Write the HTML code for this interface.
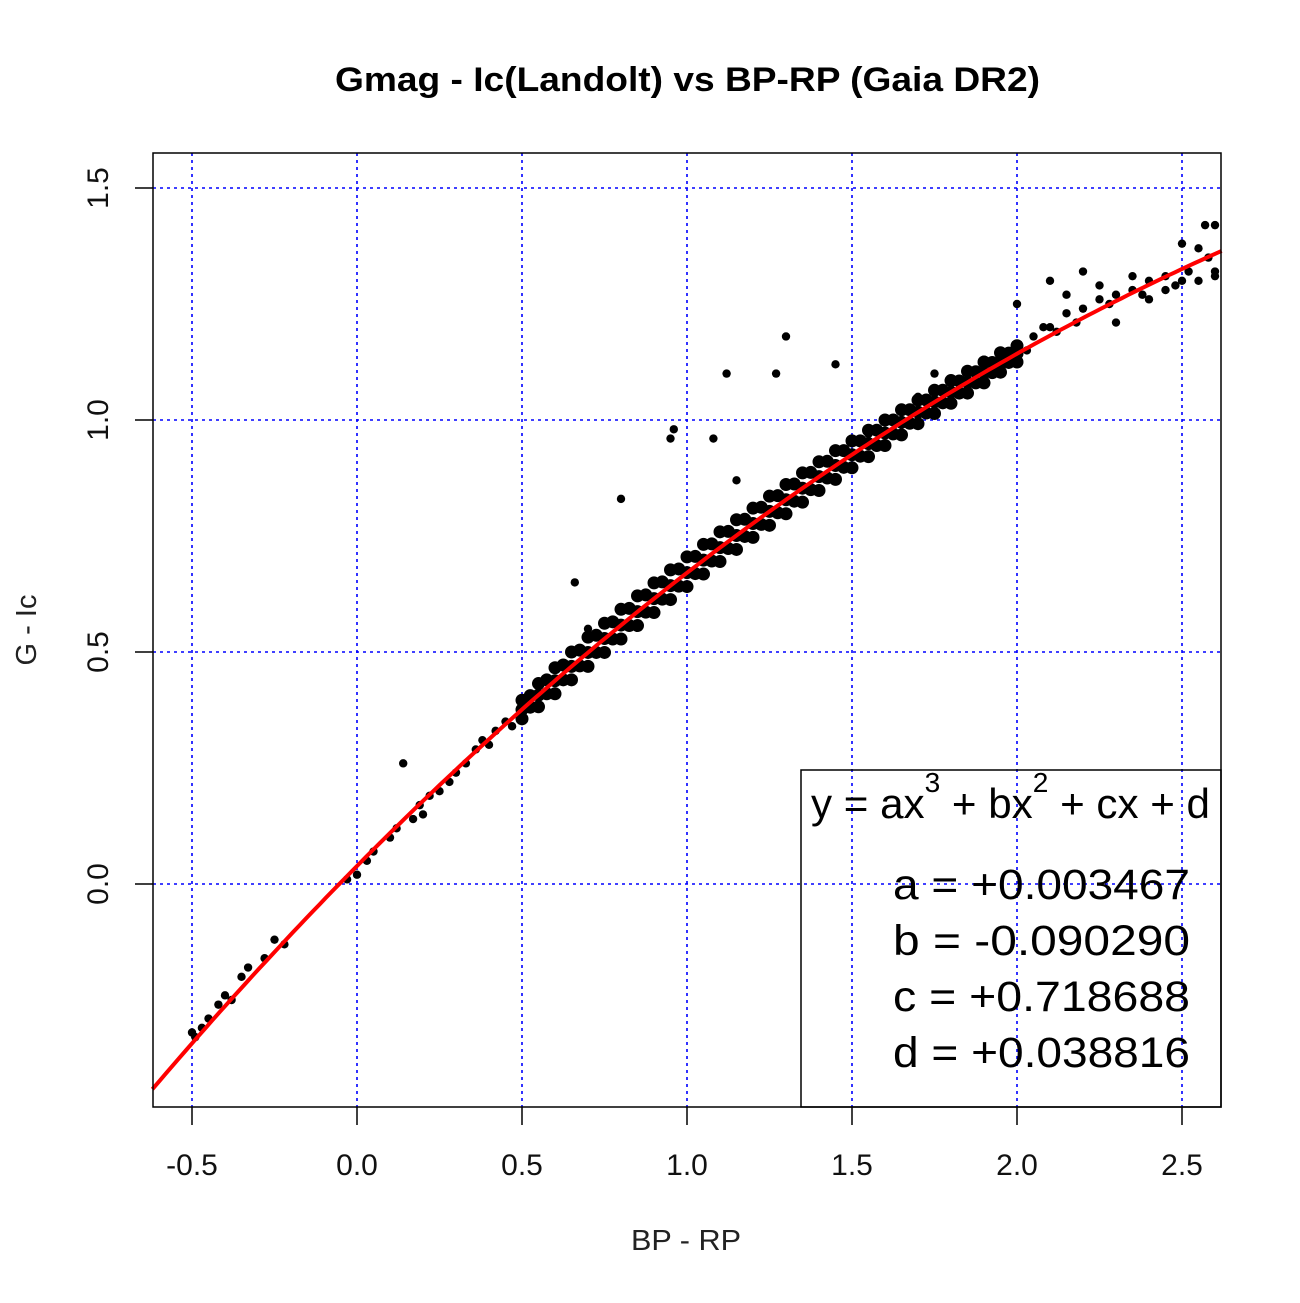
<!DOCTYPE html>
<html><head><meta charset="utf-8"><style>
html,body{margin:0;padding:0;background:#fff;}
svg text{font-family:"Liberation Sans",Arial,sans-serif;}
</style></head><body>
<svg id="chart" width="1300" height="1298" xmlns="http://www.w3.org/2000/svg">
<rect width="1300" height="1298" fill="#fff"/>
<text x="335" y="91" textLength="705" lengthAdjust="spacingAndGlyphs" font-size="34" font-weight="bold">Gmag - Ic(Landolt) vs BP-RP (Gaia DR2)</text>
<g id="grid"></g>
<g id="points"></g>
<path id="fit" fill="none" stroke="#ff0000" stroke-width="4"/>
<rect x="153" y="153" width="1068" height="954" fill="none" stroke="#000" stroke-width="1.5"/>
<g id="axes"></g>
<text x="631" y="1250" textLength="110" lengthAdjust="spacingAndGlyphs" font-size="29" fill="#222">BP - RP</text>
<text transform="translate(36,630) rotate(-90)" text-anchor="middle" font-size="29" fill="#222">G - Ic</text>
<g>
<rect x="801" y="770" width="420" height="337" fill="none" stroke="#000" stroke-width="1.5"/>
<text x="811" y="818" textLength="399" lengthAdjust="spacingAndGlyphs" font-size="42">y = ax<tspan dy="-26" font-size="28">3</tspan><tspan dy="26"> + bx</tspan><tspan dy="-26" font-size="28">2</tspan><tspan dy="26"> + cx + d</tspan></text>
<text id="coefText" font-size="43"></text>
</g>
</svg>
<script>
const coefNames = ["a","b","c","d"];
const coefLabels = ["+0.003467","-0.090290","+0.718688","+0.038816"];
const coefValues = [0.003467,-0.090290,0.718688,0.038816];
const xTicks = [-0.5,0,0.5,1,1.5,2,2.5];
const xTickLabels = ["-0.5","0.0","0.5","1.0","1.5","2.0","2.5"];
const yTicks = [0,0.5,1,1.5];
const yTickLabels = ["0.0","0.5","1.0","1.5"];
const bandPts = [
[0.5,0.356],[0.5,0.376],[0.5,0.396],[0.525,0.381],[0.525,0.406],
[0.55,0.382],[0.55,0.407],[0.55,0.432],[0.575,0.410],[0.575,0.440],
[0.6,0.410],[0.6,0.438],[0.6,0.466],[0.625,0.440],[0.625,0.472],
[0.65,0.440],[0.65,0.469],[0.65,0.500],[0.675,0.470],[0.675,0.504],
[0.7,0.469],[0.7,0.499],[0.7,0.532],[0.725,0.499],[0.725,0.536],
[0.75,0.499],[0.75,0.529],[0.75,0.562],[0.775,0.528],[0.775,0.565],
[0.8,0.528],[0.8,0.558],[0.8,0.592],[0.825,0.557],[0.825,0.594],
[0.85,0.557],[0.85,0.587],[0.85,0.621],[0.875,0.586],[0.875,0.623],
[0.9,0.585],[0.9,0.615],[0.9,0.649],[0.925,0.614],[0.925,0.651],
[0.95,0.613],[0.95,0.643],[0.95,0.677],[0.975,0.642],[0.975,0.679],
[1.0,0.641],[1.0,0.671],[1.0,0.705],[1.025,0.669],[1.025,0.706],
[1.05,0.668],[1.05,0.698],[1.05,0.732],[1.075,0.696],[1.075,0.733],
[1.1,0.695],[1.1,0.725],[1.1,0.759],[1.125,0.723],[1.125,0.760],
[1.15,0.721],[1.15,0.751],[1.15,0.785],[1.175,0.749],[1.175,0.786],
[1.2,0.747],[1.2,0.777],[1.2,0.810],[1.225,0.775],[1.225,0.812],
[1.25,0.773],[1.25,0.803],[1.25,0.836],[1.275,0.800],[1.275,0.837],
[1.3,0.798],[1.3,0.828],[1.3,0.861],[1.325,0.825],[1.325,0.862],
[1.35,0.823],[1.35,0.853],[1.35,0.886],[1.375,0.850],[1.375,0.887],
[1.4,0.848],[1.4,0.878],[1.4,0.910],[1.425,0.875],[1.425,0.911],
[1.45,0.872],[1.45,0.902],[1.45,0.934],[1.475,0.898],[1.475,0.934],
[1.5,0.897],[1.5,0.925],[1.5,0.955],[1.525,0.922],[1.525,0.955],
[1.55,0.921],[1.55,0.949],[1.55,0.978],[1.575,0.945],[1.575,0.978],
[1.6,0.945],[1.6,0.972],[1.6,1.000],[1.625,0.970],[1.625,1.000],
[1.65,0.968],[1.65,0.995],[1.65,1.022],[1.675,0.993],[1.675,1.022],
[1.7,0.992],[1.7,1.017],[1.7,1.043],[1.725,1.015],[1.725,1.043],
[1.75,1.014],[1.75,1.039],[1.75,1.064],[1.775,1.037],[1.775,1.064],
[1.8,1.036],[1.8,1.060],[1.8,1.085],[1.825,1.058],[1.825,1.084],
[1.85,1.058],[1.85,1.081],[1.85,1.105],[1.875,1.080],[1.875,1.104],
[1.9,1.080],[1.9,1.102],[1.9,1.125],[1.925,1.102],[1.925,1.124],
[1.95,1.103],[1.95,1.123],[1.95,1.145],[1.975,1.124],[1.975,1.144],
[2.0,1.125],[2.0,1.143],[2.0,1.160]
];
const sparsePts = [
[-0.5,-0.32],[-0.49,-0.33],[-0.47,-0.31],[-0.45,-0.29],[-0.42,-0.26],[-0.4,-0.24],[-0.38,-0.25],[-0.35,-0.2],[-0.33,-0.18],[-0.28,-0.16],[-0.25,-0.12],[-0.22,-0.13],
[-0.03,0.01],[0.0,0.02],[0.03,0.05],[0.05,0.07],[0.1,0.1],[0.12,0.12],[0.14,0.26],[0.17,0.14],[0.19,0.17],[0.2,0.15],[0.22,0.19],[0.25,0.2],[0.28,0.22],[0.3,0.24],[0.33,0.26],[0.36,0.29],[0.38,0.31],[0.4,0.3],[0.42,0.33],[0.45,0.35],[0.47,0.34],
[0.66,0.65],[0.8,0.83],[0.96,0.98],[0.95,0.96],[1.08,0.96],[1.12,1.1],[1.15,0.87],[1.27,1.1],[1.3,1.18],[1.45,1.12],[1.65,1.0],[1.75,1.1],[2.0,1.25],[2.1,1.3],[2.15,1.27],[2.2,1.32],[2.25,1.29],[2.35,1.31],[2.45,1.28],[2.5,1.38],[2.55,1.3],[2.6,1.42],[2.57,1.42],[2.6,1.32],[2.05,1.18],[2.15,1.23],[2.25,1.26],[2.35,1.28],[2.45,1.31],[2.3,1.21],[2.4,1.26],[2.55,1.37],[1.9,1.13],[2.08,1.2],[1.82,1.06],[2.0,1.16],[1.7,1.05],[1.55,0.97],[0.6,0.47],[0.55,0.43],[0.7,0.55],[2.1,1.2],[2.2,1.24],[2.3,1.27],[2.5,1.3],[2.4,1.3],
[2.03,1.15],[2.12,1.19],[2.18,1.21],[2.28,1.25],[2.38,1.27],[2.48,1.29],[2.52,1.32],[2.58,1.35],[2.6,1.31]
];

const NS="http://www.w3.org/2000/svg";
const X0=153,X1=1221,Y0=153,Y1=1107;
function sx(v){return 357+v*330;}
function sy(v){return 884-v*464;}
function mk(tag,attrs,parent){const e=document.createElementNS(NS,tag);for(const k in attrs)e.setAttribute(k,attrs[k]);parent.appendChild(e);return e;}

const grid=document.getElementById('grid');
const axes=document.getElementById('axes');
xTicks.forEach((t,i)=>{
  const g=mk('line',{x1:sx(t),x2:sx(t),y1:Y0,y2:Y1,stroke:'#0000ff','stroke-width':1.6,'stroke-dasharray':'3 4'},grid);
  
  
  const tk=mk('line',{x1:sx(t),x2:sx(t),y1:Y1,y2:Y1+18,stroke:'#000','stroke-width':1.5},axes);
  
  
  const lb=mk('text',{x:sx(t),y:1175,'text-anchor':'middle','font-size':30,fill:'#111'},axes);
  lb.textContent=xTickLabels[i];
  
  
});
yTicks.forEach((t,i)=>{
  const g=mk('line',{x1:X0,x2:X1,y1:sy(t),y2:sy(t),stroke:'#0000ff','stroke-width':1.6,'stroke-dasharray':'3 4'},grid);
  
  
  const tk=mk('line',{x1:X0-18,x2:X0,y1:sy(t),y2:sy(t),stroke:'#000','stroke-width':1.5},axes);
  
  
  const lb=mk('text',{transform:`translate(108,${sy(t)}) rotate(-90)`,'text-anchor':'middle','font-size':30,fill:'#111'},axes);
  lb.textContent=yTickLabels[i];
  
  
});

const pg=document.getElementById('points');
bandPts.forEach(p=>{
  const c=mk('circle',{cx:sx(p[0]),cy:sy(p[1]),r:6.5,fill:'#000'},pg);
  
  
});
sparsePts.forEach(p=>{
  const c=mk('circle',{cx:sx(p[0]),cy:sy(p[1]),r:4.2,fill:'#000'},pg);
  
  
});

let d='';
for(let i=0;i<=160;i++){
  const x=-0.62+i*(3.24/160);
  const y=((coefValues[0]*x+coefValues[1])*x+coefValues[2])*x+coefValues[3];
  d+=(i?'L':'M')+sx(x).toFixed(1)+','+sy(y).toFixed(1);
}
document.getElementById('fit').setAttribute('d',d);

const ct=document.getElementById('coefText');
coefNames.forEach((n,i)=>{
  const ts=mk('tspan',{x:893,y:899+i*56,textLength:297,lengthAdjust:'spacingAndGlyphs'},ct);
  ts.textContent=n+' = '+coefLabels[i];
  
  
});
</script>
</body></html>
